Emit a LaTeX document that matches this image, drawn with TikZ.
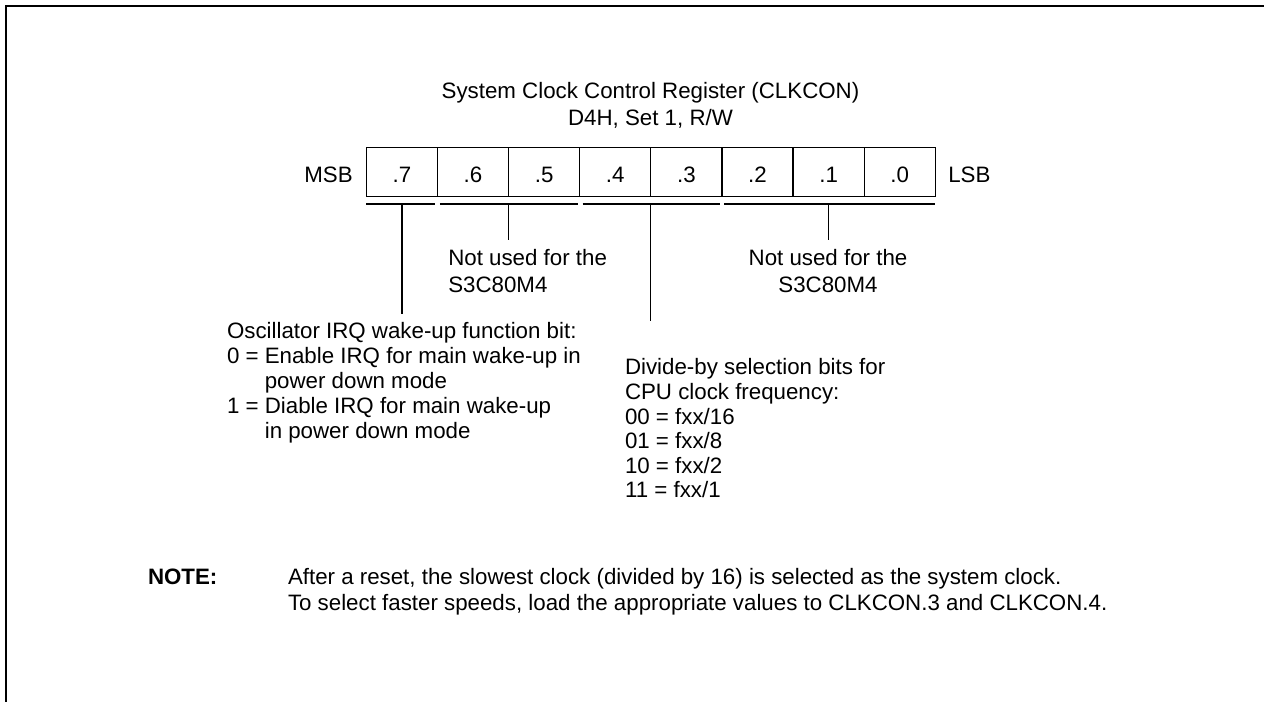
\documentclass[tikz,border=0pt]{standalone}
\usepackage{fontspec}
\setmainfont{Liberation Sans}
\usetikzlibrary{calc}
\tikzset{
  txt/.style={inner sep=0pt, outer sep=0pt, font=\fontsize{22.3bp}{26.6bp}\selectfont},
  notetxt/.style={inner sep=0pt, outer sep=0pt, font=\fontsize{22.3bp}{26.6bp}\selectfont},
  cellbox/.style={txt, draw, line width=1.3bp, minimum width=71.125bp, minimum height=49.4bp, text height=21.4bp, text depth=0pt},
  rule/.style={line width=1.3bp},
  frame/.style={line width=2bp}
}
\begin{document}
\begin{tikzpicture}[x=1bp,y=-1bp]
\useasboundingbox (0,0) rectangle (1264,702);
\draw[frame] (6,702) -- (6,6) -- (1264,6);

% title
\node[txt, anchor=base] (title1) at (650.5,99) {System Clock Control Register (CLKCON)};
\node[txt, anchor=base] (title2) at (650.5,125.7) {D4H, Set 1, R/W};

% register cells
\foreach \b [count=\i from 0] in {7,6,5,4,3,2,1,0}
  \node[cellbox] (b\b) at ({366.3+71.125*(\i+0.5)},172) {.\b};
\node[txt, anchor=base east] (msb) at (352.7,182.7) {MSB};
\node[txt, anchor=base west] (lsb) at (948.3,182.7) {LSB};

% brackets
\draw[rule] ($(b7.south west)+(0,7.3)$) -- ($(b7.south east)+(-2,7.3)$);
\draw[rule] ($(b6.south west)+(2.5,7.3)$) -- ($(b5.south east)+(-1.5,7.3)$);
\draw[rule] ($(b4.south west)+(3,7.3)$) -- ($(b3.south east)+(-2,7.3)$);
\draw[rule] ($(b2.south west)+(2.5,7.3)$) -- ($(b0.south east)+(0,7.3)$);

% leaders
\coordinate (l7) at ($(b7.south)+(0,117.3)$);
\coordinate (l65) at ($(b6.south east)+(0,43.3)$);
\coordinate (l43) at ($(b4.south east)+(0,124.3)$);
\coordinate (l20) at ($(b1.south)+(0,43.3)$);
\draw[rule] ($(b7.south)+(0,7.3)$) -- (l7);
\draw[rule] ($(b6.south east)+(0,7.3)$) -- (l65);
\draw[rule] ($(b4.south east)+(0,7.3)$) -- (l43);
\draw[rule] ($(b1.south)+(0,7.3)$) -- (l20);

% not used labels
\node[txt, anchor=base west] (nua) at (448.3,265.5) {Not used for the};
\node[txt, anchor=base west] (nub) at (448.3,292) {S3C80M4};
\node[txt, anchor=base] (nuc) at (828,265.5) {Not used for the};
\node[txt, anchor=base] (nud) at (828,292) {S3C80M4};

% oscillator block
\node[txt, anchor=base west] (osc1) at (227,338) {Oscillator IRQ wake-up function bit:};
\node[txt, anchor=base west] (osc2) at (227,363) {0 = Enable IRQ for main wake-up in};
\node[txt, anchor=base west] (osc3) at (264.8,388) {power down mode};
\node[txt, anchor=base west] (osc4) at (227,413) {1 = Diable IRQ for main wake-up};
\node[txt, anchor=base west] (osc5) at (264.8,438) {in power down mode};

% divide-by block
\node[txt, anchor=base west] (div1) at (625,374.7) {Divide-by selection bits for};
\node[txt, anchor=base west] (div2) at (625,399.3) {CPU clock frequency:};
\node[txt, anchor=base west] (div3) at (625,424) {00 = fxx/16};
\node[txt, anchor=base west] (div4) at (625,448.6) {01 = fxx/8};
\node[txt, anchor=base west] (div5) at (625,473.2) {10 = fxx/2};
\node[txt, anchor=base west] (div6) at (625,497.8) {11 = fxx/1};

% note
\node[notetxt, anchor=base west] (note) at (148,584) {\bfseries NOTE:};
\node[notetxt, anchor=base west] (note1) at (288,584) {After a reset, the slowest clock (divided by 16) is selected as the system clock.};
\node[notetxt, anchor=base west] (note2) at (288,610) {To select faster speeds, load the appropriate values to CLKCON.3 and CLKCON.4.};
\end{tikzpicture}
\end{document}
